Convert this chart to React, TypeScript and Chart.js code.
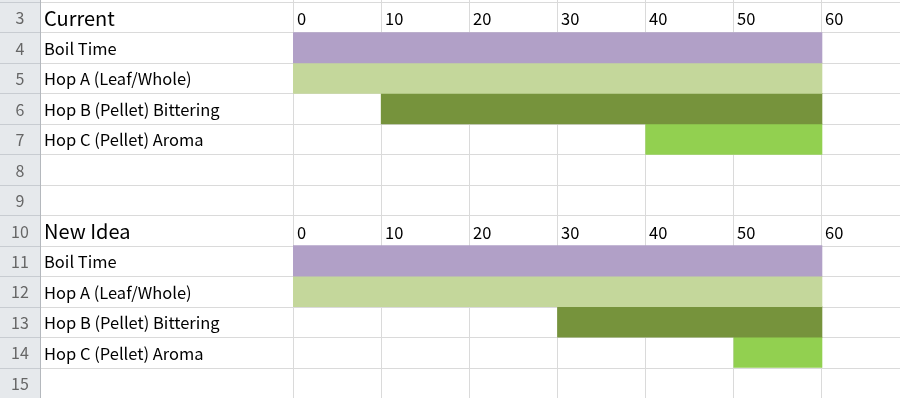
import React, { useEffect, useRef } from 'react';
import { Chart, registerables } from 'chart.js';

Chart.register(...registerables);

// Sheet rows (row numbers shown in the row header column)
const rowNumbers = ['3', '4', '5', '6', '7', '8', '9', '10', '11', '12', '13', '14', '15'];
// Column A text for each row
const rowLabels = [
  'Current',
  'Boil Time',
  'Hop A (Leaf/Whole)',
  'Hop B (Pellet) Bittering',
  'Hop C (Pellet) Aroma',
  '',
  '',
  'New Idea',
  'Boil Time',
  'Hop A (Leaf/Whole)',
  'Hop B (Pellet) Bittering',
  'Hop C (Pellet) Aroma',
  '',
];
// Rows that carry the minute header (0 10 20 ... 60)
const headerRows = ['3', '10'];
const tickLabels = [0, 10, 20, 30, 40, 50, 60];

// Series
const seriesNames = ['Boil Time', 'Hop A (Leaf/Whole)', 'Hop B (Pellet) Bittering', 'Hop C (Pellet) Aroma'];
const currentRows = ['4', '5', '6', '7'];
const currentStart = [0, 0, 10, 40];
const currentEnd = [60, 60, 60, 60];
const newIdeaRows = ['11', '12', '13', '14'];
const newIdeaStart = [0, 0, 30, 50];
const newIdeaEnd = [60, 60, 60, 60];

const seriesColors = ['#b1a0c7', '#c4d79b', '#76933c', '#92d050'];

const FONT = '"Noto Sans CJK JP", "Noto Sans", sans-serif';
const HEADER_COL_W = 40;
const GRID = '#dadada';
const HEADER_BG = '#e6e9ec';
const HEADER_LINE = '#c8ccd1';
const HEADER_BORDER = '#b4b8bd';

const sheetPlugin = {
  id: 'sheet',
  beforeDatasetsDraw(chart: any) {
    const { ctx, width, height } = chart;
    const x = chart.scales.x;
    const y = chart.scales.y;
    const n = rowNumbers.length;
    const step = y.getPixelForValue(1) - y.getPixelForValue(0);
    const top = y.getPixelForValue(0) - step / 2;
    ctx.save();
    ctx.fillStyle = '#ffffff';
    ctx.fillRect(0, 0, width, height);
    // row header column
    ctx.fillStyle = HEADER_BG;
    ctx.fillRect(0, 0, HEADER_COL_W, height);
    // horizontal lines
    for (let i = -1; i <= n; i++) {
      const yy = Math.round(top + i * step);
      ctx.fillStyle = HEADER_LINE;
      ctx.fillRect(0, yy, HEADER_COL_W, 1);
      ctx.fillStyle = GRID;
      ctx.fillRect(HEADER_COL_W + 1, yy, width - HEADER_COL_W, 1);
    }
    // vertical lines
    ctx.fillStyle = GRID;
    for (let v = 0; v <= 70; v += 10) {
      const xx = Math.floor(x.getPixelForValue(v));
      ctx.fillRect(xx, 0, 1, height);
    }
    ctx.fillStyle = HEADER_BORDER;
    ctx.fillRect(HEADER_COL_W, 0, 1, height);
    ctx.restore();
  },
  afterDraw(chart: any) {
    const { ctx } = chart;
    const x = chart.scales.x;
    const y = chart.scales.y;
    ctx.save();
    ctx.textBaseline = 'middle';
    rowNumbers.forEach((r, i) => {
      const cy = y.getPixelForValue(i) + 1;
      ctx.fillStyle = '#666666';
      ctx.font = `16px ${FONT}`;
      ctx.textAlign = 'center';
      ctx.fillText(r, HEADER_COL_W / 2, cy);
      const isHeader = headerRows.includes(r);
      ctx.textAlign = 'left';
      ctx.fillStyle = '#000000';
      ctx.font = isHeader ? `20px ${FONT}` : `16.5px ${FONT}`;
      if (rowLabels[i]) ctx.fillText(rowLabels[i], HEADER_COL_W + 4, cy);
      if (isHeader) {
        ctx.font = `16.5px ${FONT}`;
        tickLabels.forEach((t) => {
          ctx.fillText(String(t), Math.floor(x.getPixelForValue(t)) + 4, cy + 1);
        });
      }
    });
    ctx.restore();
  },
};

export default function App() {
  const ref = useRef<HTMLCanvasElement>(null);
  useEffect(() => {
    document.body.style.margin = '0';
    const canvas = ref.current!;
    const datasets = seriesNames.map((name, i) => ({
      label: name,
      data: [
        { x: [currentStart[i], currentEnd[i]], y: currentRows[i] },
        { x: [newIdeaStart[i], newIdeaEnd[i]], y: newIdeaRows[i] },
      ],
      backgroundColor: seriesColors[i],
      borderWidth: 0,
      borderSkipped: false,
      grouped: false,
      barPercentage: 1,
      categoryPercentage: 1,
    }));
    const chart = new Chart(canvas, {
      type: 'bar',
      data: { labels: rowNumbers, datasets: datasets as any },
      options: {
        indexAxis: 'y',
        responsive: false,
        animation: false,
        layout: { padding: { left: 293, top: 2, right: 0, bottom: 0 } },
        plugins: { legend: { display: false }, tooltip: { enabled: false } },
        scales: {
          x: { type: 'linear', min: 0, max: 68.85, display: false },
          y: { type: 'category', labels: rowNumbers, offset: true, display: false },
        },
      },
      plugins: [sheetPlugin],
    });
    return () => chart.destroy();
  }, []);
  return <canvas ref={ref} width={900} height={398} style={{ display: 'block' }} />;
}
